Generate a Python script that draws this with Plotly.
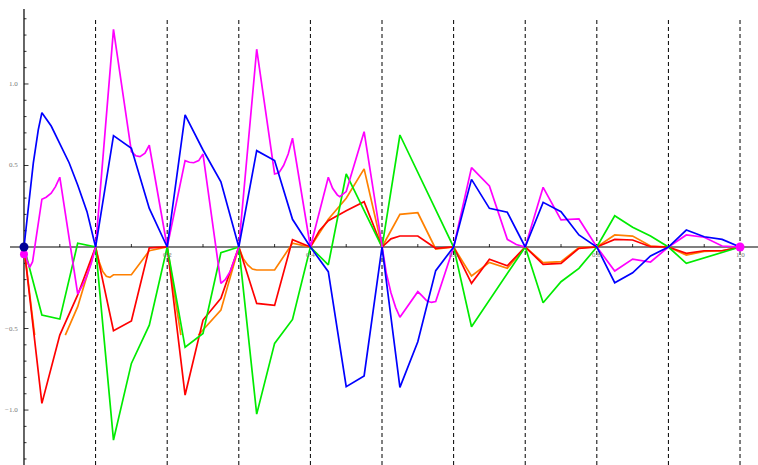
import plotly.graph_objects as go

# ---------------- data ----------------
blue_x = [0, 0.006, 0.013, 0.02, 0.025, 0.038, 0.05, 0.063, 0.075, 0.088, 0.1,
          0.125, 0.15, 0.175, 0.2,
          0.225, 0.25, 0.275, 0.3,
          0.325, 0.35, 0.375, 0.4,
          0.425, 0.45, 0.475, 0.5,
          0.525, 0.55, 0.575, 0.6,
          0.625, 0.65, 0.675, 0.7,
          0.725, 0.75, 0.775, 0.8,
          0.825, 0.85, 0.875, 0.9,
          0.925, 0.95, 0.975, 1.0]
blue_y = [0, 0.25, 0.515, 0.72, 0.824, 0.742, 0.636, 0.517, 0.38, 0.217, 0,
          0.683, 0.605, 0.237, 0,
          0.81, 0.595, 0.40, 0,
          0.591, 0.53, 0.17, 0,
          -0.151, -0.857, -0.791, 0,
          -0.861, -0.581, -0.145, 0,
          0.415, 0.237, 0.213, 0,
          0.274, 0.217, 0.074, 0,
          -0.219, -0.158, -0.055, 0,
          0.104, 0.063, 0.047, 0]

magenta_x = [0, 0.004, 0.008, 0.012, 0.025, 0.031, 0.038, 0.044, 0.05, 0.075, 0.081, 0.0875, 0.094, 0.1,
             0.125, 0.15, 0.156, 0.162, 0.169, 0.175, 0.2,
             0.225, 0.231, 0.237, 0.244, 0.25, 0.275, 0.281, 0.288, 0.294, 0.3,
             0.325, 0.35, 0.356, 0.3625, 0.369, 0.375, 0.4,
             0.425, 0.431, 0.4375, 0.441, 0.45, 0.475, 0.5,
             0.506, 0.5125, 0.519, 0.525, 0.55, 0.556, 0.5625, 0.569, 0.575, 0.6,
             0.625, 0.65, 0.675, 0.6875, 0.7,
             0.725, 0.75, 0.775, 0.8,
             0.825, 0.85, 0.875, 0.9,
             0.925, 0.95, 0.975, 1.0]
magenta_y = [0, -0.08, -0.125, -0.09, 0.293, 0.305, 0.33, 0.37, 0.428, -0.288, -0.24, -0.18, -0.1, 0,
             1.335, 0.585, 0.56, 0.554, 0.575, 0.624, 0,
             0.53, 0.52, 0.517, 0.53, 0.57, -0.223, -0.2, -0.15, -0.08, 0,
             1.213, 0.448, 0.455, 0.50, 0.57, 0.667, 0,
             0.428, 0.36, 0.32, 0.309, 0.34, 0.707, 0,
             -0.16, -0.28, -0.37, -0.431, -0.274, -0.30, -0.33, -0.34, -0.335, 0,
             0.487, 0.374, 0.047, 0.015, 0,
             0.366, 0.166, 0.172, 0,
             -0.147, -0.074, -0.092, 0,
             0.074, 0.06, 0.006, 0]

green_x = [0, 0.025, 0.05, 0.075, 0.1,
           0.125, 0.15, 0.175, 0.2,
           0.225, 0.25, 0.275, 0.3,
           0.325, 0.35, 0.375, 0.4,
           0.425, 0.45, 0.475, 0.5,
           0.525, 0.55, 0.575, 0.6,
           0.625, 0.65, 0.675, 0.7,
           0.725, 0.75, 0.775, 0.8,
           0.825, 0.85, 0.875, 0.9,
           0.925, 0.95, 0.975, 1.0]
green_y = [0, -0.417, -0.442, 0.023, 0,
           -1.184, -0.714, -0.479, 0,
           -0.615, -0.53, -0.035, 0,
           -1.025, -0.591, -0.444, 0,
           -0.11, 0.448, 0.224, 0,
           0.687, 0.455, 0.229, 0,
           -0.489, -0.326, -0.163, 0,
           -0.342, -0.213, -0.131, 0,
           0.192, 0.121, 0.067, 0,
           -0.1, -0.067, -0.033, 0]

red_x = [0, 0.025, 0.05, 0.075, 0.1,
         0.125, 0.15, 0.175, 0.2,
         0.225, 0.25, 0.275, 0.3,
         0.325, 0.35, 0.375, 0.4,
         0.4125, 0.425, 0.45, 0.475, 0.5,
         0.5125, 0.525, 0.55, 0.575, 0.6,
         0.625, 0.65, 0.675, 0.7,
         0.725, 0.75, 0.775, 0.8,
         0.825, 0.85, 0.875, 0.9,
         0.925, 0.95, 0.975, 1.0]
red_y = [0, -0.959, -0.54, -0.294, 0,
         -0.513, -0.454, -0.005, 0,
         -0.908, -0.448, -0.315, 0,
         -0.346, -0.358, 0.045, 0,
         0.10, 0.161, 0.223, 0.278, 0,
         0.05, 0.0675, 0.0675, -0.008, 0,
         -0.223, -0.075, -0.115, 0,
         -0.106, -0.1, -0.008, 0,
         0.047, 0.043, 0.002, 0,
         -0.039, -0.023, -0.023, 0]

orange_x = [0, 0.0149, None, 0.0577, 0.075, 0.1,
            0.105, 0.11, 0.115, 0.12, 0.125, 0.15, 0.175, 0.2,
            0.2191, None, 0.2436, 0.275, 0.3,
            0.306, 0.3125, 0.319, 0.325, 0.35, 0.375, 0.4,
            0.425, 0.45, 0.475, 0.5,
            0.525, 0.55, 0.575, 0.6,
            0.625, 0.65, 0.675, 0.7,
            0.725, 0.75, 0.775, 0.8,
            0.825, 0.85, 0.875, 0.9,
            0.925, 0.95, 0.975, 1.0]
orange_y = [0, -0.54, None, -0.54, -0.366, 0,
            -0.09, -0.15, -0.18, -0.186, -0.17, -0.17, -0.023, 0,
            -0.54, None, -0.54, -0.387, 0,
            -0.07, -0.11, -0.135, -0.141, -0.141, 0.023, 0,
            0.17, 0.299, 0.479, 0,
            0.2, 0.21, -0.012, 0,
            -0.178, -0.094, -0.131, 0,
            -0.096, -0.09, -0.004, 0,
            0.074, 0.067, 0.006, 0,
            -0.049, -0.027, -0.023, 0]

dashed_x = [0.1, 0.2, 0.3, 0.4, 0.5, 0.6, 0.7, 0.8, 0.9, 1.0]
x_tick_labels = ["0.2", "0.4", "0.6", "0.8", "1.0"]
x_tick_vals = [0.2, 0.4, 0.6, 0.8, 1.0]
x_minor = [i * 0.05 for i in range(1, 21)]
y_tick_vals = [1.0, 0.5, -0.5, -1.0]
y_tick_labels = ["1.0", "0.5", "\u22120.5", "\u22121.0"]
y_minor = [i * 0.1 for i in range(-13, 15) if i != 0]

XR = [-0.0335, 1.0251]
YR = [-1.337, 1.515]
PX_X = (XR[1] - XR[0]) / 758.0
PX_Y = (YR[1] - YR[0]) / 465.0

fig = go.Figure()

# dashed verticals
for xv in dashed_x:
    fig.add_shape(type="line", x0=xv, x1=xv, y0=YR[0], y1=1.393, xref="x", yref="y",
                  line=dict(color="black", width=1, dash="4px,3px"), layer="below")

# axes
fig.add_shape(type="line", x0=-0.0196, x1=XR[1], y0=0, y1=0, xref="x", yref="y",
              line=dict(color="black", width=1.2), layer="below")
fig.add_shape(type="line", x0=0, x1=0, y0=YR[0], y1=1.46, xref="x", yref="y",
              line=dict(color="black", width=1.2), layer="below")

# x ticks (upward)
tx, ty = [], []
for t in x_minor:
    tx += [t, t, None]
    ty += [0, 3 * PX_Y, None]
fig.add_trace(go.Scatter(x=tx, y=ty, mode="lines", line=dict(color="black", width=0.8),
                         hoverinfo="skip", showlegend=False))
# y ticks (rightward)
ux, uy = [], []
for t in y_minor:
    ln = 4.5 if abs(round(t * 2) - t * 2) < 1e-6 else 2.5
    ux += [0, ln * PX_X, None]
    uy += [t, t, None]
fig.add_trace(go.Scatter(x=ux, y=uy, mode="lines", line=dict(color="black", width=0.8),
                         hoverinfo="skip", showlegend=False))

series = [
    (orange_x, orange_y, "rgb(255,128,0)"),
    (red_x, red_y, "rgb(255,0,0)"),
    (green_x, green_y, "rgb(0,235,0)"),
    (magenta_x, magenta_y, "rgb(255,0,255)"),
    (blue_x, blue_y, "rgb(0,0,255)"),
]
for xs, ys, c in series:
    fig.add_trace(go.Scatter(x=xs, y=ys, mode="lines", line=dict(color=c, width=1.7),
                             connectgaps=False, showlegend=False))

# end point markers
fig.add_trace(go.Scatter(x=[0], y=[-0.045], mode="markers",
                         marker=dict(color="rgb(255,0,255)", size=8), showlegend=False))
fig.add_trace(go.Scatter(x=[0], y=[0], mode="markers",
                         marker=dict(color="rgb(0,0,150)", size=9), showlegend=False))
fig.add_trace(go.Scatter(x=[1.0], y=[0], mode="markers",
                         marker=dict(color="rgb(255,0,255)", size=9), showlegend=False))

# tick labels
for v, lab in zip(x_tick_vals, x_tick_labels):
    fig.add_annotation(x=v, y=-8 * PX_Y, text=lab, showarrow=False, xanchor="center",
                       yanchor="middle", font=dict(family="Liberation Serif", size=7, color="#777777"))
for v, lab in zip(y_tick_vals, y_tick_labels):
    fig.add_annotation(x=-4 * PX_X, y=v, text=lab, showarrow=False, xanchor="right",
                       yanchor="middle", font=dict(family="Liberation Serif", size=7, color="#777777"))

fig.update_layout(
    width=758, height=465,
    margin=dict(l=0, r=0, t=0, b=0),
    paper_bgcolor="white", plot_bgcolor="white",
    showlegend=False,
    xaxis=dict(range=XR, visible=False, fixedrange=True),
    yaxis=dict(range=YR, visible=False, fixedrange=True),
)

fig.write_html("out.html", config={"displayModeBar": False},
               post_script="document.body.style.margin='0';document.body.style.overflow='hidden';")
